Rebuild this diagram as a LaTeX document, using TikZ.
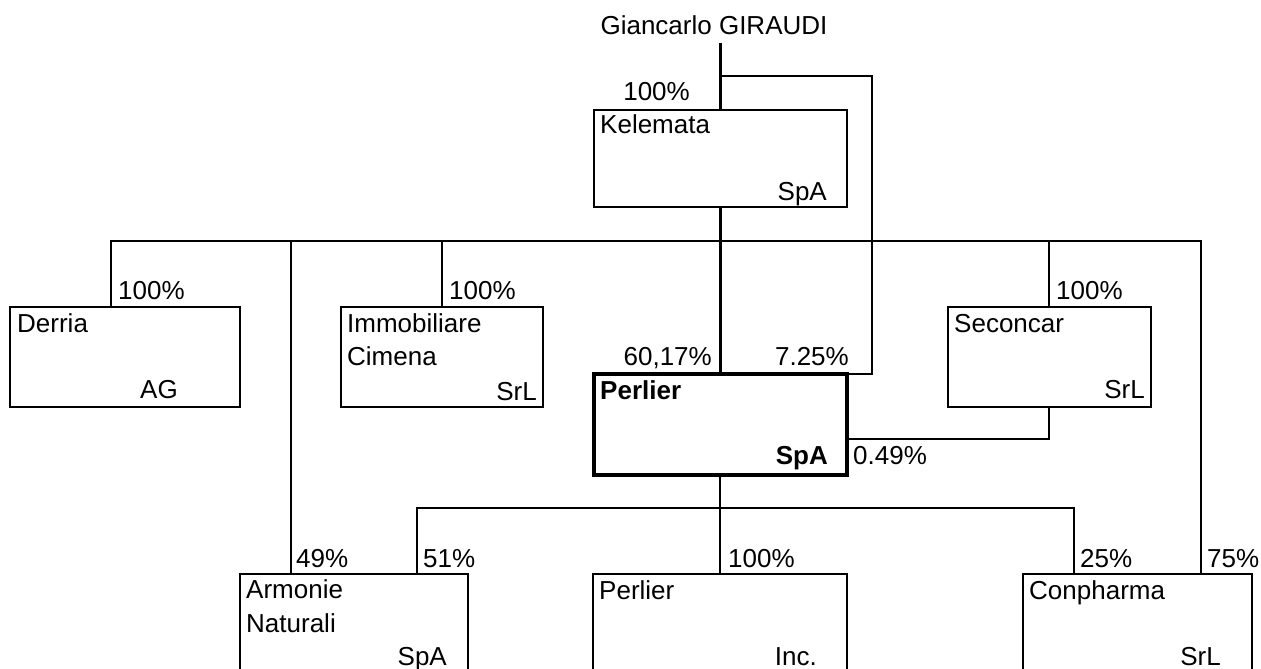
\documentclass[tikz,border=0pt]{standalone}
\usepackage{fontspec}
\setmainfont{Liberation Sans}
\usetikzlibrary{calc}

\tikzset{
  firm/.style={draw, rectangle, line width=2.6pt, inner sep=0pt, outer sep=0pt, anchor=north west},
  link/.style={line width=2.6pt},
  firmname/.style={inner sep=0pt, anchor=base west, align=left},
  form/.style={inner sep=0pt, anchor=base east},
  pctR/.style={inner sep=0pt, anchor=base west},
  pctL/.style={inner sep=0pt, anchor=base east}
}

\begin{document}
\begin{tikzpicture}[x=1pt, y=-1pt, every node/.style={font=\fontsize{26}{33.5}\selectfont}]
  \clip (0,0) rectangle (1261,669);
  % owner and holding
  \node[inner sep=0pt, anchor=base] (owner) at (714,35) {Giancarlo GIRAUDI};
  \node[firm, minimum width=253pt, minimum height=97pt] (kel) at (594,110) {};
  % second row
  \node[firm, minimum width=230pt, minimum height=100pt] (derria) at (10,307) {};
  \node[firm, minimum width=202pt, minimum height=100pt] (immo) at (341,307) {};
  \node[firm, minimum width=203pt, minimum height=100pt] (secon) at (948,307) {};
  % bottom row
  \node[firm, minimum width=228pt, minimum height=110pt] (armo) at (240,574) {};
  \node[firm, minimum width=254pt, minimum height=110pt] (pinc) at (593,574) {};
  \node[firm, minimum width=229pt, minimum height=110pt] (conph) at (1023,574) {};

  % links
  \coordinate (fork) at (720,76);
  \draw[link] (kel.north |- 0,43) -- (kel.north);
  \draw[link] (fork) -| (872,374) -- (848,374);
  \draw[link] ([xshift=101pt]derria.north west) -- ++(0,-66) -| ([xshift=178pt]conph.north west);
  \foreach \n in {immo, secon}
    \draw[link] ([xshift=101pt]\n.north west) -- ++(0,-66);
  \draw[link] ([xshift=51pt]armo.north west) -- ++(0,-333);
  \draw[link] (kel.south) -- (kel.south |- 0,374);
  \draw[link] ([xshift=177pt]armo.north west) -- ++(0,-66) -| ([xshift=51pt]conph.north west);
  \draw[link] (pinc.north |- 0,475) -- (pinc.north);
  \draw[link] ([xshift=101pt]secon.south west) -- ++(0,32) -- (848,439);

  % main company
  \node[firm, line width=4.5pt, minimum width=253pt, minimum height=101pt] (perl) at (594,374) {};

  % names
  \node[firmname] at ([shift={(6,23)}]kel.north west) {Kelemata};
  \node[firmname] at ([shift={(7,25)}]derria.north west) {Derria};
  \node[firmname] at ([shift={(6,58.5)}]immo.north west) {Immobiliare\\Cimena};
  \node[firmname] at ([shift={(6,25)}]secon.north west) {Seconcar};
  \node[firmname, font=\fontsize{26}{33.5}\selectfont\bfseries] at ([shift={(6,25)}]perl.north west) {Perlier};
  \node[firmname] at ([shift={(6,58)}]armo.north west) {Armonie\\Naturali};
  \node[firmname] at ([shift={(6,25)}]pinc.north west) {Perlier};
  \node[firmname] at ([shift={(6,25)}]conph.north west) {Conpharma};

  % legal forms
  \node[form] at ([shift={(-20,-7)}]kel.south east) {SpA};
  \node[form] at ([shift={(-62,-9)}]derria.south east) {AG};
  \node[form] at ([shift={(-6,-7)}]immo.south east) {SrL};
  \node[form] at ([shift={(-6,-9)}]secon.south east) {SrL};
  \node[form, font=\fontsize{26}{33.5}\selectfont\bfseries] at ([shift={(-19,-11)}]perl.south east) {SpA};
  \node[form] at ([shift={(-21,91)}]armo.north east) {SpA};
  \node[form] at ([shift={(-30,91)}]pinc.north east) {Inc.};
  \node[form] at ([shift={(-31,91)}]conph.north east) {SrL};

  % shares
  \node[pctL] at (690,100) {100\%};
  \node[pctR] at (118,299) {100\%};
  \node[pctR] at (449,299) {100\%};
  \node[pctR] at (1056,299) {100\%};
  \node[pctL] at (712,365) {60,17\%};
  \node[pctL] at (849,365) {7.25\%};
  \node[pctR] at (853,464) {0.49\%};
  \node[pctR] at (296,567) {49\%};
  \node[pctR] at (423,567) {51\%};
  \node[pctR] at (728,567) {100\%};
  \node[pctR] at (1080,567) {25\%};
  \node[pctR] at (1207,567) {75\%};
\end{tikzpicture}
\end{document}
